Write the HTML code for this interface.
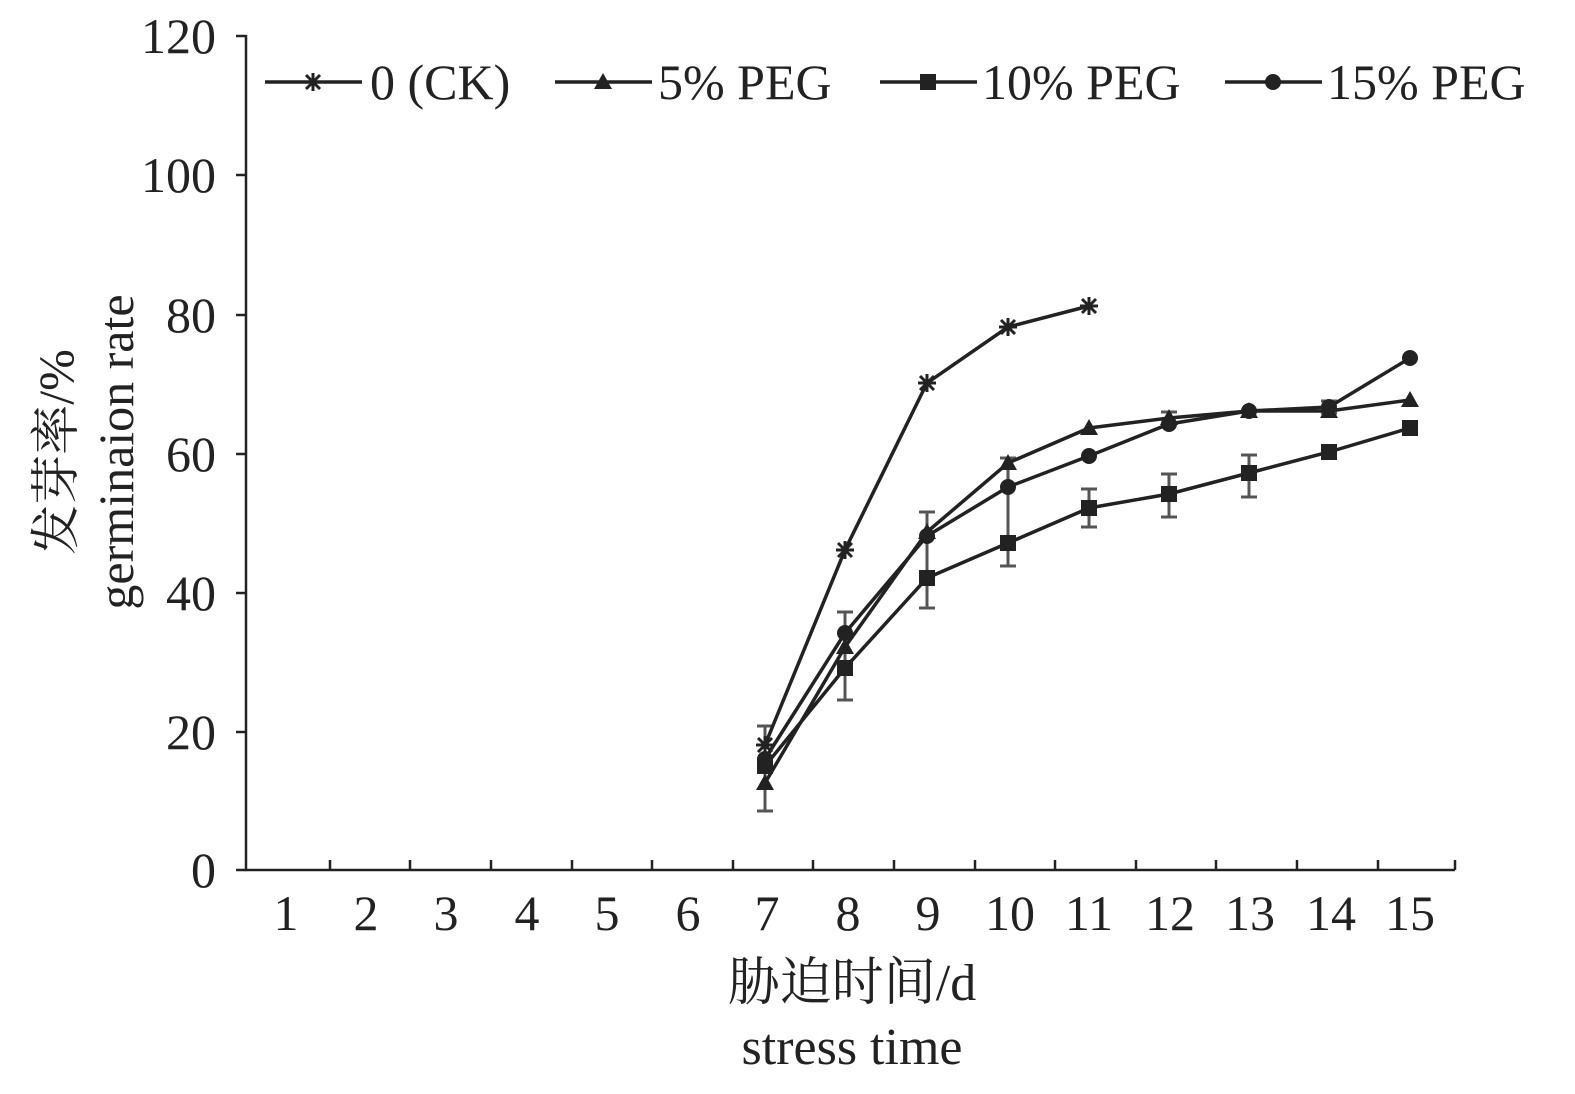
<!DOCTYPE html>
<html><head><meta charset="utf-8"><style>
html,body{margin:0;padding:0;background:#fff;}
svg{display:block;}
text{font-family:"Liberation Serif","Noto Serif CJK SC",serif;fill:#222;}
</style></head><body>
<svg width="1575" height="1094" viewBox="0 0 1575 1094" xmlns="http://www.w3.org/2000/svg">
<defs>
<g id="star"><path d="M-7,-7L7,7M-7,7L7,-7M0,-9L0,9M-9,0L9,0" stroke="#222" stroke-width="3"/></g>
<g id="tri"><path d="M0,-9L9,7L-9,7Z" fill="#222"/></g>
<g id="sq"><rect x="-8" y="-8" width="16" height="16" fill="#222"/></g>
<g id="dot"><circle r="8" fill="#222"/></g>
</defs>
<g stroke="#222" stroke-width="2.5" fill="none">
<path d="M246,35V870H1455"/>
<path d="M236,36H246M236,175H246M236,315H246M236,454H246M236,593H246M236,732H246M236,870H246"/>
<path d="M330,870v-10M410,870v-10M491,870v-10M572,870v-10M652,870v-10M733,870v-10M813,870v-10M894,870v-10M975,870v-10M1055,870v-10M1136,870v-10M1216,870v-10M1297,870v-10M1378,870v-10M1455,870v-10"/>
</g>
<g font-size="50" text-anchor="end">
<text x="216" y="53">120</text><text x="216" y="192">100</text><text x="216" y="332">80</text>
<text x="216" y="471">60</text><text x="216" y="610">40</text><text x="216" y="749">20</text><text x="216" y="887">0</text>
</g>
<g font-size="50" text-anchor="middle">
<text x="286" y="930">1</text><text x="366" y="930">2</text><text x="446" y="930">3</text><text x="527" y="930">4</text>
<text x="607" y="930">5</text><text x="688" y="930">6</text><text x="767" y="930">7</text><text x="848" y="930">8</text>
<text x="928" y="930">9</text><text x="1010" y="930">10</text><text x="1089" y="930">11</text><text x="1170" y="930">12</text>
<text x="1250" y="930">13</text><text x="1331" y="930">14</text><text x="1410" y="930">15</text>
</g>
<g font-size="52" text-anchor="middle">
<text x="852" y="1000">胁迫时间/d</text>
<text x="852" y="1064">stress time</text>
</g>
<g transform="translate(73,452) rotate(-90)" font-size="50" text-anchor="middle"><text x="0" y="0">发芽率/%</text></g>
<g transform="translate(133,452) rotate(-90)" font-size="50" text-anchor="middle"><text x="0" y="0">germinaion rate</text></g>
<g stroke="#555" stroke-width="3" fill="none">
<path d="M765,726V811M757,726H773M757,811H773"/>
<path d="M845,612V700M837,612H853M837,700H853"/>
<path d="M927,512V608M919,512H935M919,608H935"/>
<path d="M1008,458V566M1000,458H1016M1000,566H1016"/>
<path d="M1089,489V527M1081,489H1097M1081,527H1097"/>
<path d="M1169,474V517M1161,474H1177M1161,517H1177M1169,412V424M1161,412H1177"/>
<path d="M1249,455V497M1241,455H1257M1241,497H1257"/>
<path d="M1329,401V413M1321,401H1337M1321,413H1337"/>
</g>
<g stroke="#222" stroke-width="3.5" fill="none">
<polyline points="765,745 845,550 927,383 1008,327 1089,306"/>
<polyline points="765,783 845,647 927,532 1008,463 1089,428 1169,418 1249,411 1329,411 1410,400"/>
<polyline points="765,766 845,668 927,578 1008,543 1089,508 1169,494 1249,473 1329,452 1410,428"/>
<polyline points="765,759 845,633 927,536 1008,487 1089,456 1169,424 1249,411 1329,407 1410,358"/>
</g>
<g>
<use href="#star" x="765" y="745"/><use href="#star" x="845" y="550"/><use href="#star" x="927" y="383"/><use href="#star" x="1008" y="327"/><use href="#star" x="1089" y="306"/>
<use href="#tri" x="765" y="783"/><use href="#tri" x="845" y="647"/><use href="#tri" x="927" y="532"/><use href="#tri" x="1008" y="463"/><use href="#tri" x="1089" y="428"/><use href="#tri" x="1169" y="418"/><use href="#tri" x="1249" y="411"/><use href="#tri" x="1329" y="411"/><use href="#tri" x="1410" y="400"/>
<use href="#sq" x="765" y="766"/><use href="#sq" x="845" y="668"/><use href="#sq" x="927" y="578"/><use href="#sq" x="1008" y="543"/><use href="#sq" x="1089" y="508"/><use href="#sq" x="1169" y="494"/><use href="#sq" x="1249" y="473"/><use href="#sq" x="1329" y="452"/><use href="#sq" x="1410" y="428"/>
<use href="#dot" x="765" y="759"/><use href="#dot" x="845" y="633"/><use href="#dot" x="927" y="536"/><use href="#dot" x="1008" y="487"/><use href="#dot" x="1089" y="456"/><use href="#dot" x="1169" y="424"/><use href="#dot" x="1249" y="411"/><use href="#dot" x="1329" y="407"/><use href="#dot" x="1410" y="358"/>
</g>
<g stroke="#222" stroke-width="3.5">
<path d="M265,82H362"/><path d="M555,82H652"/><path d="M880,82H977"/><path d="M1225,82H1322"/>
</g>
<use href="#star" x="313" y="82"/><use href="#tri" x="603" y="82"/><use href="#sq" x="928" y="82"/><use href="#dot" x="1273" y="82"/>
<g font-size="50">
<text x="370" y="99">0 (CK)</text>
<text x="658" y="99">5% PEG</text>
<text x="982" y="99">10% PEG</text>
<text x="1327" y="99">15% PEG</text>
</g>
</svg>
</body></html>
